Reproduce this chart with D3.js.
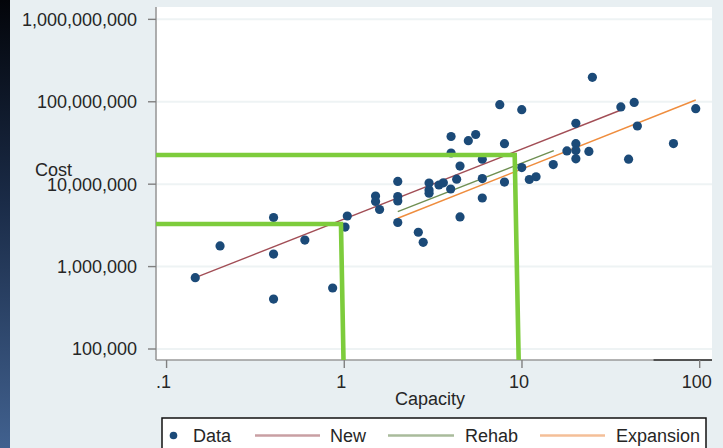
<!DOCTYPE html>
<html><head><meta charset="utf-8">
<script src="https://cdn.jsdelivr.net/npm/d3@7/dist/d3.min.js"></script>
<style>
html,body{margin:0;padding:0;background:#e8eff2;}
svg{display:block;font-family:"Liberation Sans",Arial,sans-serif;}
</style></head>
<body><svg id="c" width="723" height="448"></svg>
<script>
// ---- data ----
const capacity = [0.145,0.2,0.4,0.4,0.4,0.6,0.86,1.04,1.01,1.5,1.5,1.58,2.0,2.0,2.0,2.0,2.61,2.78,3.0,3.0,3.0,3.41,3.61,3.97,3.99,3.99,4.29,4.48,4.48,4.99,5.49,5.98,5.98,5.98,7.5,7.97,7.97,9.97,9.97,11.0,12.0,15.0,17.9,20.1,20.1,20.1,20.1,23.8,24.9,36.0,39.8,42.8,44.6,71.2,95.0];
const cost = [733000,1780000,3940000,1420000,404000,2100000,550000,4110000,3020000,7190000,6170000,4930000,10800000,7090000,6250000,3430000,2610000,1970000,10300000,8500000,7760000,9780000,10400000,8740000,37900000,23900000,11500000,16600000,4000000,33700000,40100000,20100000,11700000,6800000,92200000,31000000,10600000,80200000,15900000,11400000,12300000,17300000,25300000,54800000,31000000,25600000,20300000,25000000,198000000,86500000,20100000,98100000,50800000,31100000,82500000];
const fitNames = ["New","Rehab","Expansion"];
const fitCap = [[0.145,36.1],[2.0,15.1],[2.0,95.0]];
const fitCost = [[733000,79500000],[4640000,25600000],[3860000,105000000]];
const guideCapTop = [0.958, 9.10];
const guideCapBottom = [0.99, 9.58];
const guideCost = [3290000, 22600000];
const xTicks = [0.1, 1, 10, 100];
const xTickLabels = [".1", "1", "10", "100"];
const yTicks = [1e9, 1e8, 1e7, 1e6, 1e5];
const yTickLabels = ["1,000,000,000","100,000,000","10,000,000","1,000,000","100,000"];
const legendLabels = ["Data","New","Rehab","Expansion"];

// ---- styles ----
const fitColors = ["#a24e56","#6f8f52","#ef8d3e"];
const legendColors = ["#c99fa3","#a9bb9b","#f4bf98"];
const pointColor = "#1b4a78";
const guideColor = "#7dcc3c";

const svg = d3.select("#c");
const x = d3.scaleLog().domain([0.0872, 117.3]).range([156, 712]);
const y = d3.scaleLog().domain([10**4.8665, 10**9.150]).range([360, 7]);

// left dark strip
const defs = svg.append("defs");
const lg = defs.append("linearGradient").attr("id","strip").attr("x1",0).attr("y1",0).attr("x2",0).attr("y2",1);
lg.append("stop").attr("offset","0%").attr("stop-color","#03050a");
lg.append("stop").attr("offset","45%").attr("stop-color","#1a2b47");
lg.append("stop").attr("offset","100%").attr("stop-color","#41618f");
svg.append("rect").attr("x",0).attr("y",0).attr("width",10).attr("height",448).attr("fill","url(#strip)");

// plot region
svg.append("rect").attr("x",x.range()[0]).attr("y",y.range()[1])
  .attr("width",x.range()[1]-x.range()[0]).attr("height",y.range()[0]-y.range()[1]).attr("fill","#ffffff");

// gridlines
svg.append("g").selectAll("line").data(yTicks).join("line")
  .attr("x1",x.range()[0]).attr("x2",x.range()[1]).attr("y1",d=>y(d)).attr("y2",d=>y(d))
  .attr("stroke","#eef3f4").attr("stroke-width",2);

// axes lines
svg.append("line").attr("x1",x.range()[0]).attr("x2",x.range()[0]).attr("y1",y.range()[1]).attr("y2",y.range()[0])
  .attr("stroke","#9a9a9a").attr("stroke-width",1.6);
svg.append("line").attr("x1",x.range()[0]).attr("x2",x.range()[1]).attr("y1",y.range()[0]).attr("y2",y.range()[0])
  .attr("stroke","#9a9a9a").attr("stroke-width",1.6);
svg.append("line").attr("x1",x(55)).attr("x2",x.range()[1]).attr("y1",y.range()[0]).attr("y2",y.range()[0])
  .attr("stroke","#333").attr("stroke-width",1.6);

// y ticks
const yg = svg.append("g");
yg.selectAll("line").data(yTicks).join("line")
  .attr("x1",x.range()[0]-8).attr("x2",x.range()[0]).attr("y1",d=>y(d)).attr("y2",d=>y(d))
  .attr("stroke","#808080").attr("stroke-width",1.4);
yg.selectAll("text").data(yTicks).join("text")
  .attr("x",137).attr("y",d=>y(d)).attr("dy","0.36em").attr("text-anchor","end")
  .attr("font-size",18).attr("fill","#262626").text((d,i)=>yTickLabels[i]);

// x ticks
const xg = svg.append("g");
xg.selectAll("line").data(xTicks).join("line")
  .attr("x1",d=>x(d)).attr("x2",d=>x(d)).attr("y1",y.range()[0]).attr("y2",y.range()[0]+8)
  .attr("stroke","#808080").attr("stroke-width",1.4);
xg.selectAll("text").data(xTicks).join("text")
  .attr("x",d=>x(d)-3).attr("y",388).attr("text-anchor","middle")
  .attr("font-size",18).attr("fill","#262626").text((d,i)=>xTickLabels[i]);

// axis titles
svg.append("text").attr("x",430).attr("y",405).attr("text-anchor","middle").attr("font-size",18).attr("fill","#262626").text("Capacity");
svg.append("text").attr("x",35).attr("y",176).attr("font-size",18).attr("fill","#262626").text("Cost");

// fit lines
const fitData = fitNames.map((n,i)=>({name:n, pts: fitCap[i].map((c,j)=>[c, fitCost[i][j]])}));
svg.append("g").selectAll("path").data(fitData).join("path")
  .attr("d",d=>d3.line().x(p=>x(p[0])).y(p=>y(p[1]))(d.pts))
  .attr("fill","none").attr("stroke",(d,i)=>fitColors[i]).attr("stroke-width",1.4);

// points
svg.append("g").selectAll("circle").data(capacity.map((c,i)=>[c,cost[i]])).join("circle")
  .attr("cx",d=>x(d[0])).attr("cy",d=>y(d[1])).attr("r",4.6).attr("fill",pointColor);

// green guide lines
const xmin = x.domain()[0], ymin = y.domain()[0];
const guides = guideCost.map((g,i)=>[[xmin,g],[guideCapTop[i],g],[guideCapBottom[i],ymin]]);
svg.append("g").selectAll("path").data(guides).join("path")
  .attr("d",d3.line().x(p=>x(p[0])).y(p=>y(p[1])))
  .attr("fill","none").attr("stroke",guideColor).attr("stroke-width",4.6).attr("stroke-linejoin","miter");

// legend
const leg = svg.append("g");
leg.append("rect").attr("x",162).attr("y",418).attr("width",544).attr("height",40)
  .attr("fill","#ffffff").attr("stroke","#111").attr("stroke-width",1.5);
leg.append("circle").attr("cx",173.5).attr("cy",435.5).attr("r",3.8).attr("fill",pointColor);
const legX = [193, 330, 465, 616];
const legLine = [[255,320],[388,454],[540,605]];
leg.selectAll("line").data(legLine).join("line")
  .attr("x1",d=>d[0]).attr("x2",d=>d[1]).attr("y1",435.5).attr("y2",435.5)
  .attr("stroke",(d,i)=>legendColors[i]).attr("stroke-width",2.4);
leg.selectAll("text").data(legendLabels).join("text")
  .attr("x",(d,i)=>legX[i]).attr("y",442).attr("font-size",18).attr("fill","#262626").text(d=>d);
</script></body></html>
